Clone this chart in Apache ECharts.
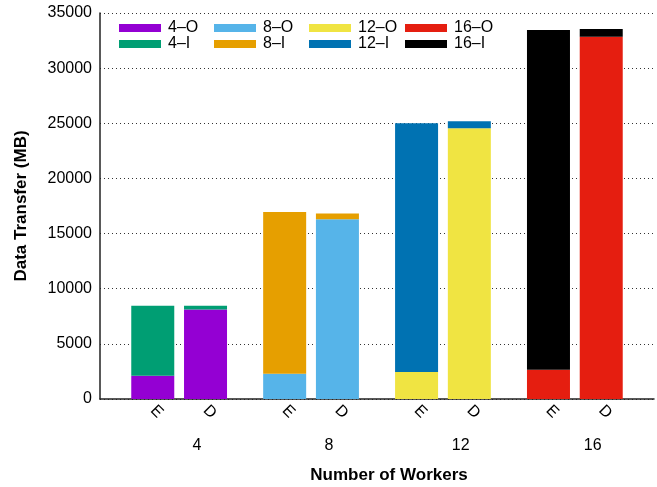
<!DOCTYPE html>
<html>
<head>
<meta charset="utf-8">
<script src="https://cdn.jsdelivr.net/npm/echarts@6/dist/echarts.min.js"></script>
<style>
  html, body { margin: 0; padding: 0; background: #fff; }
  #chart { width: 657px; height: 487px; }
</style>
</head>
<body>
<div id="chart"></div>
<script>
// Worker counts and the two variants drawn for each of them
const workers = [4, 8, 12, 16];
const variants = ['E', 'D'];

// Data transfer (MB): outgoing (O) part and incoming (I) part of each bar
const outE = [2100, 2300, 2450, 2650];
const inE  = [6350, 14650, 22550, 30800];
const outD = [8120, 16300, 24550, 32850];
const inD  = [330, 520, 630, 700];

const yTicks = [0, 5000, 10000, 15000, 20000, 25000, 30000, 35000];

const outColors = ['#9400D3', '#56B4E9', '#F0E442', '#E51E10'];
const inColors  = ['#009E73', '#E69F00', '#0072B2', '#000000'];

// Category slots: each worker group uses 5 slots (E, gap, D, gap, gap)
const SLOTS_PER_GROUP = 5;
const LEAD = 2;
const slotCount = LEAD + workers.length * SLOTS_PER_GROUP;
const slots = new Array(slotCount).fill('');
const slotOf = (g, v) => LEAD + g * SLOTS_PER_GROUP + v * 2;
workers.forEach((w, g) => variants.forEach((v, i) => { slots[slotOf(g, i)] = v; }));

function seriesData(g, eVal, dVal) {
  const d = new Array(slotCount).fill('-');
  d[slotOf(g, 0)] = eVal;
  d[slotOf(g, 1)] = dVal;
  return d;
}

const series = [];
workers.forEach((w, g) => {
  series.push({
    name: w + '\u2013O', type: 'bar', stack: 'total', barWidth: 43,
    itemStyle: { color: outColors[g] },
    data: seriesData(g, outE[g], outD[g])
  });
  series.push({
    name: w + '\u2013I', type: 'bar', stack: 'total', barWidth: 43,
    itemStyle: { color: inColors[g] },
    data: seriesData(g, inE[g], inD[g])
  });
});

const FONT = "'Liberation Sans', Arial, Helvetica, sans-serif";
const legendCols = [119, 214, 309, 405];
const legends = workers.map((w, g) => ({
  orient: 'vertical',
  left: legendCols[g],
  top: 20,
  padding: 0,
  itemWidth: 42,
  itemHeight: 8,
  itemGap: 0,
  icon: 'rect',
  selectedMode: false,
  data: [w + '\u2013O', w + '\u2013I'],
  textStyle: { fontFamily: FONT, fontSize: 16, color: '#000', lineHeight: 16, padding: [0, 0, 0, 2] }
}));

const chart = echarts.init(document.getElementById('chart'), null, { renderer: 'canvas' });
chart.setOption({
  animation: false,
  backgroundColor: '#fff',
  textStyle: { fontFamily: FONT },
  legend: legends,
  grid: { left: 100, right: 3, top: 13, bottom: 88, containLabel: false, outerBoundsMode: 'none' },
  xAxis: [
    {
      type: 'category',
      data: slots,
      boundaryGap: false,
      axisLine: { show: true, lineStyle: { color: '#222', width: 1.5 } },
      axisTick: { show: false },
      axisLabel: { interval: 0, rotate: -45, margin: 9, fontSize: 16, color: '#000', fontFamily: FONT },
      splitLine: { show: false }
    },
    {
      type: 'value',
      position: 'bottom',
      min: 1.06,
      max: 17.86,
      axisLine: { show: false },
      axisTick: { show: false },
      splitLine: { show: false },
      axisLabel: { customValues: workers, margin: 39, fontSize: 16, color: '#000', fontFamily: FONT },
      name: 'Number of Workers',
      nameLocation: 'middle',
      nameGap: 68,
      nameTextStyle: { fontSize: 17, fontWeight: 'bold', color: '#000', fontFamily: FONT, padding: [0, 0, 0, 24] }
    }
  ],
  yAxis: {
    type: 'value',
    min: yTicks[0],
    max: yTicks[yTicks.length - 1],
    interval: yTicks[1] - yTicks[0],
    axisLine: { show: true, lineStyle: { color: '#222', width: 1.5 } },
    axisTick: { show: false },
    axisLabel: { margin: 8, fontSize: 16, color: '#000', fontFamily: FONT, formatter: v => String(v) },
    splitLine: { show: true, lineStyle: { color: '#333', width: 1, type: [1, 3] } },
    name: 'Data Transfer (MB)',
    nameLocation: 'middle',
    nameGap: 70,
    nameTextStyle: { fontSize: 17, fontWeight: 'bold', color: '#000', fontFamily: FONT }
  },
  series: series
});
</script>
</body>
</html>
